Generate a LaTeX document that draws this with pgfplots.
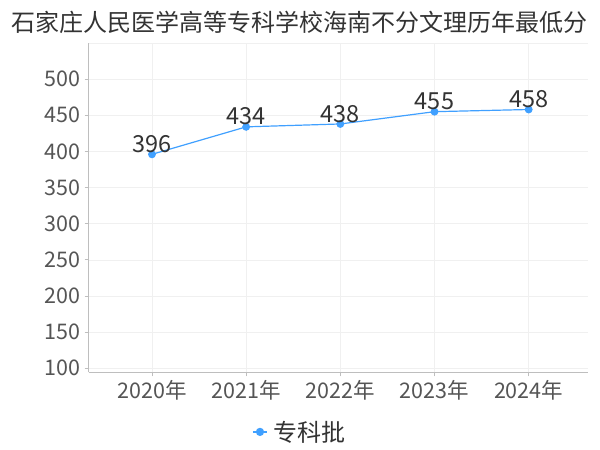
\documentclass[border=0pt]{standalone}
\usepackage{pgfplots}
\pgfplotsset{compat=1.18}
\usepackage{fontspec}
\setmainfont{Noto Sans CJK SC}
\definecolor{lineblue}{RGB}{64,160,255}
\definecolor{ticktxt}{RGB}{85,85,85}
\definecolor{labtxt}{RGB}{51,51,51}
\definecolor{gridc}{RGB}{240,240,240}
\definecolor{axisc}{RGB}{190,190,190}
\begin{document}
\begin{tikzpicture}[x=1pt,y=1pt]
\path[use as bounding box] (0,0) rectangle (600,450);
\node[font=\fontsize{24}{28}\selectfont, text=labtxt] at (300,428) {石家庄人民医学高等专科学校海南不分文理历年最低分};
\begin{axis}[
  at={(88.5pt,77.7pt)}, anchor=south west,
  scale only axis, width=499.5pt, height=329.3pt,
  xmin=-0.674, xmax=4.63, ymin=94.5, ymax=550,
  axis x line*=bottom, axis y line*=left,
  axis line style={axisc, line width=0.8pt},
  xtick={0,1,2,3,4},
  xticklabels={2020年,2021年,2022年,2023年,2024年},
  ytick={100,150,...,500},
  extra y ticks={550}, extra y tick labels={},
  extra y tick style={major tick length=0pt},
  grid=major, major grid style={gridc, line width=0.6pt},
  tick style={axisc, line width=0.8pt},
  major tick length=4pt,
  tick align=outside,
  x tick label style={font=\fontsize{21.5}{24}\selectfont, text=ticktxt, yshift=-1pt},
  y tick label style={font=\fontsize{21.5}{24}\selectfont, text=ticktxt, xshift=-1pt},
  /pgf/number format/assume math mode=true,
  legend style={at={(0.4234,-0.181)}, anchor=center, draw=none, fill=none,
    font=\fontsize{24}{28}\selectfont, text=labtxt, inner sep=0pt},
  legend image code/.code={
    \draw[lineblue, line width=1.2pt] (-2pt,0pt) -- (12pt,0pt);
    \fill[lineblue] (5pt,0pt) circle (3.5pt);
  },
  clip=false,
]
\addplot[lineblue, line width=1.2pt, mark=*, mark size=3.3pt,
  mark options={fill=lineblue, draw=lineblue},
  nodes near coords,
  every node near coord/.append style={font=\fontsize{23.5}{26}\selectfont, text=labtxt, anchor=south, inner sep=1pt, yshift=0pt},
] coordinates {(0,396) (1,434) (2,438) (3,455) (4,458)};
\addlegendentry{\hspace{4pt}专科批}
\end{axis}
\end{tikzpicture}
\end{document}
